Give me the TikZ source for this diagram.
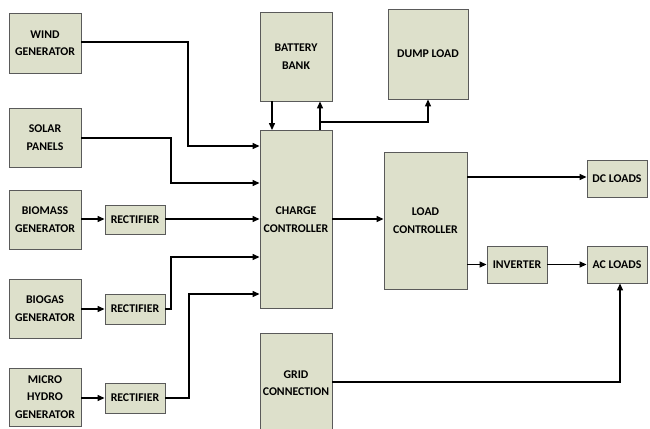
\documentclass[tikz,border=0pt]{standalone}
\usepackage{fontspec}
\setmainfont{Carlito}
\usepackage{tikz}
\usetikzlibrary{arrows.meta}
\usepackage{xcolor}
\definecolor{boxfill}{HTML}{DDE0CB}
\definecolor{boxline}{HTML}{5A5A5A}

\tikzset{
  blk/.style={draw=boxline, fill=boxfill, line width=0.9pt, align=center,
    inner sep=0pt, font=\bfseries\fontsize{11.8}{17.5}\selectfont},
  link/.style={line width=1.3pt, -{Triangle[length=7pt,width=6pt]}}
}

\begin{document}
\begin{tikzpicture}[x=1pt, y=-1pt]
    \useasboundingbox (0,0) rectangle (650,428);
    % sources
    \node[blk, minimum width=72, minimum height=60] (wind)  at (45,43)   {WIND\\GENERATOR};
    \node[blk, minimum width=72, minimum height=59] (solar) at (45,137.5) {SOLAR\\PANELS};
    \node[blk, minimum width=72, minimum height=59] (bmass) at (45,219.5) {BIOMASS\\GENERATOR};
    \node[blk, minimum width=72, minimum height=59] (bgas)  at (45,308.5) {BIOGAS\\GENERATOR};
    \node[blk, minimum width=72, minimum height=58] (hydro) at (45,397)  {MICRO\\HYDRO\\GENERATOR};
    \node[blk, minimum width=60, minimum height=29] (rect1) at (135,219.5) {RECTIFIER};
    \node[blk, minimum width=60, minimum height=30] (rect2) at (135,309)  {RECTIFIER};
    \node[blk, minimum width=60, minimum height=30] (rect3) at (135,398)  {RECTIFIER};
    % middle column
    \node[blk, minimum width=72, minimum height=89]  (batt)   at (296,56.5)  {BATTERY\\BANK};
    \node[blk, minimum width=72, minimum height=178] (charge) at (296,219.5) {CHARGE\\CONTROLLER};
    \node[blk, minimum width=72, minimum height=100] (grid)   at (296,383)   {GRID\\CONNECTION};
    \node[blk, minimum width=80, minimum height=90]  (dump)   at (428,54)    {DUMP LOAD};
    \node[blk, minimum width=83, minimum height=137] (load)   at (425.5,220.5) {LOAD\\CONTROLLER};
    % loads
    \node[blk, minimum width=60, minimum height=37] (dc)  at (617,178.5) {DC LOADS};
    \node[blk, minimum width=60, minimum height=37] (inv) at (517,264.5) {INVERTER};
    \node[blk, minimum width=60, minimum height=37] (ac)  at (617,264.5) {AC LOADS};

    \draw[link] (wind.east |- 0,42) -| (188,146) -- (charge.west |- 0,146);
    \draw[link] (solar.east |- 0,138) -| (171,183) -- (charge.west |- 0,183);
    \draw[link] (bmass.east |- 0,219) -- (rect1.west |- 0,219);
    \draw[link] (rect1.east |- 0,219) -- (charge.west |- 0,219);
    \draw[link] (bgas.east |- 0,309) -- (rect2.west);
    \draw[link] (rect2.east) -| (171,257) -- (charge.west |- 0,257);
    \draw[link] (hydro.east |- 0,398) -- (rect3.west);
    \draw[link] (rect3.east) -| (189,294) -- (charge.west |- 0,294);
    \draw[link] (batt.south -| 272,0) -- (charge.north -| 272,0);
    \draw[link] (charge.north -| 320,0) -- (batt.south -| 320,0);
    \draw[link] (320,122) -| (dump.south);
    \draw[link] (charge.east |- 0,219) -- (load.west |- 0,219);
    \draw[link] (load.east |- 0,177) -- (dc.west |- 0,177);
    \draw[link] (load.east |- 0,264.5) -- (inv.west);
    \draw[link] (inv.east) -- (ac.west);
    \draw[link] (grid.east |- 0,382) -| (ac.south -| 620,0);
\end{tikzpicture}
\end{document}
